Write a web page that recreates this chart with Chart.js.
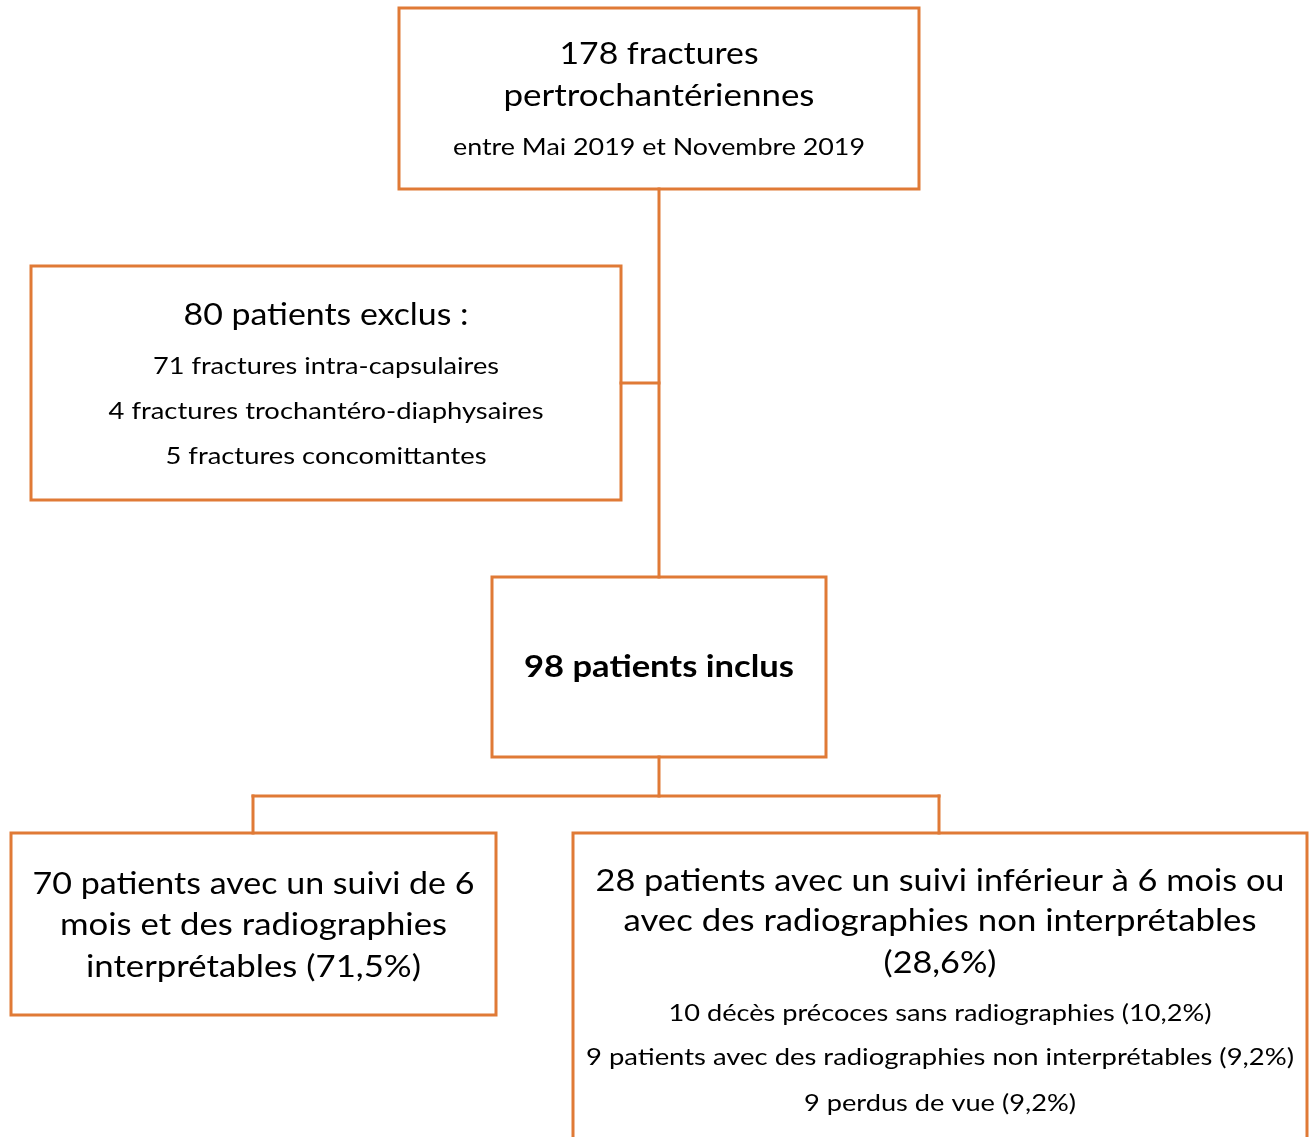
<!DOCTYPE html>
<html>
<head>
<meta charset="utf-8">
<script src="https://cdn.jsdelivr.net/npm/chart.js@4/dist/chart.umd.min.js"></script>
<style>
  html, body { margin: 0; padding: 0; background: #ffffff; }
</style>
</head>
<body>
<canvas id="flow" width="1314" height="1137"></canvas>
<script>
// Text of each box of the flow chart
const boxText = [
  ["178 fractures", "pertrochantériennes", "entre Mai 2019 et Novembre 2019"],
  ["80 patients exclus :", "71 fractures intra-capsulaires", "4 fractures trochantéro-diaphysaires", "5 fractures concomittantes"],
  ["98 patients inclus"],
  ["70 patients avec un suivi de 6", "mois et des radiographies", "interprétables (71,5%)"],
  ["28 patients avec un suivi inférieur à 6 mois ou", "avec des radiographies non interprétables", "(28,6%)",
   "10 décès précoces sans radiographies (10,2%)", "9 patients avec des radiographies non interprétables (9,2%)", "9 perdus de vue (9,2%)"],
];

// Box corners in diagram units [x0, y0, x1, y1]
const boxRects = [
  [399, 8, 919, 189],
  [31, 266, 621, 500],
  [492, 577, 826, 757],
  [11, 833, 496, 1015],
  [573, 833, 1307, 1150],
];

// Connectors between boxes
const links = [
  [[659, 189], [659, 577]],
  [[621, 383], [659, 383]],
  [[659, 757], [659, 796]],
  [[253, 796], [939, 796]],
  [[253, 796], [253, 833]],
  [[939, 796], [939, 833]],
];

// Layout of the text lines (centre y, font size, target width)
const lineY = [[54, 96, 148], [315, 367, 412, 457], [667], [884, 925, 967], [881, 921, 963, 1014, 1058, 1104]];
const lineSize = [[31, 31, 23], [31, 23, 23, 23], [31], [31, 31, 31], [31, 31, 31, 23, 23, 23]];
const lineW = [[199, 311, 412], [285, 346, 435, 321], [270], [442, 387, 335], [689, 633, 113, 543, 708, 272]];
const boldBox = 2;

const orange = "#E07A36";

const datasets = [];
boxRects.forEach(([x0, y0, x1, y1]) => {
  datasets.push({
    data: [{ x: x0, y: y0 }, { x: x1, y: y0 }, { x: x1, y: y1 }, { x: x0, y: y1 }, { x: x0, y: y0 }],
  });
});
links.forEach((seg) => {
  datasets.push({ data: seg.map(([x, y]) => ({ x, y })) });
});
datasets.forEach((d) => {
  d.showLine = true;
  d.borderColor = orange;
  d.borderWidth = 3;
  d.pointRadius = 0;
  d.fill = false;
  d.borderJoinStyle = "miter";
  d.borderCapStyle = "square";
});

// Plugin that writes the box labels
const boxLabels = {
  id: "boxLabels",
  afterDatasetsDraw(chart) {
    const ctx = chart.ctx;
    const xs = chart.scales.x;
    const ys = chart.scales.y;
    ctx.save();
    ctx.fillStyle = "#000000";
    ctx.textAlign = "center";
    ctx.textBaseline = "middle";
    boxText.forEach((lines, b) => {
      const [x0, , x1] = boxRects[b];
      const cx = xs.getPixelForValue((x0 + x1) / 2);
      lines.forEach((txt, i) => {
        ctx.font = (b === boldBox ? "bold " : "") + lineSize[b][i] + "px Lato";
        const w = ctx.measureText(txt).width;
        const target = xs.getPixelForValue(lineW[b][i]) - xs.getPixelForValue(0);
        const cy = ys.getPixelForValue(lineY[b][i]);
        ctx.save();
        ctx.translate(cx, cy);
        ctx.scale(target / w, 1);
        ctx.fillText(txt, 0, 0);
        ctx.restore();
      });
    });
    ctx.restore();
  },
};

new Chart(document.getElementById("flow"), {
  type: "scatter",
  data: { datasets },
  plugins: [boxLabels],
  options: {
    responsive: false,
    devicePixelRatio: 1,
    animation: false,
    layout: { padding: 0 },
    elements: { line: { tension: 0 } },
    scales: {
      x: { type: "linear", min: 0, max: 1314, display: false },
      y: { type: "linear", min: 0, max: 1137, reverse: true, display: false },
    },
    plugins: {
      legend: { display: false },
      tooltip: { enabled: false },
    },
  },
});
</script>
</body>
</html>
